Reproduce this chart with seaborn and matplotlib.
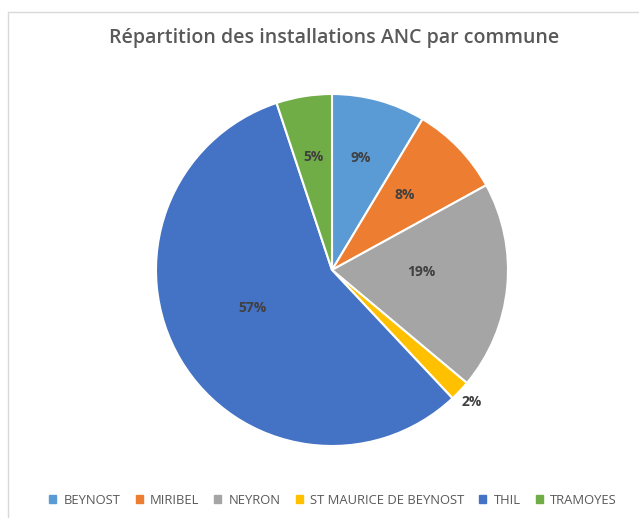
import numpy as np
import matplotlib
matplotlib.use("Agg")
import matplotlib.pyplot as plt
import seaborn as sns
from matplotlib.patches import Rectangle
from matplotlib.lines import Line2D

communes = ["BEYNOST", "MIRIBEL", "NEYRON", "ST MAURICE DE BEYNOST", "THIL", "TRAMOYES"]
parts = [8.6, 8.4, 19.1, 1.9, 56.9, 5.1]
pct_labels = ["9%", "8%", "19%", "2%", "57%", "5%"]
colors = ["#5B9BD5", "#ED7D31", "#A5A5A5", "#FFC000", "#4472C4", "#70AD47"]
title = "Répartition des installations ANC par commune"

sns.set_theme(style="white")
plt.rcParams['font.family'] = ['Open Sans', 'DejaVu Sans']

W, H = 639, 518
fig = plt.figure(figsize=(W / 100, H / 100), dpi=100)
fig.patch.set_facecolor("white")

# frame
fig.add_artist(Line2D([8 / W, 1.0], [1 - 12 / H, 1 - 12 / H], color="#D9D9D9", lw=1.0))
fig.add_artist(Line2D([8 / W, 8 / W], [0, 1 - 12 / H], color="#D9D9D9", lw=1.0))

cx, cy, R = 332, 270, 176
ax = fig.add_axes([(cx - R) / W, (H - cy - R) / H, 2 * R / W, 2 * R / H])
palette = sns.color_palette(colors)
wedges, _ = ax.pie(parts, colors=palette, startangle=90, counterclock=False,
                   wedgeprops=dict(edgecolor="white", linewidth=1.5))
ax.set_xlim(-1, 1)
ax.set_ylim(-1, 1)
ax.set_aspect("equal")
ax.axis("off")

dist = [0.66, 0.59, 0.51, 1.09, 0.50, 0.65]
dang = [1.0, 2.0, 4.5, 0.0, -5.0, 0.0]
for w, lab, d, da in zip(wedges, pct_labels, dist, dang):
    ang = np.deg2rad((w.theta1 + w.theta2) / 2 + da)
    ax.text(d * np.cos(ang), d * np.sin(ang), lab, ha="center", va="center",
            fontsize=10, fontweight="bold", color="#404040")

fig.text(334 / W, 1 - 38 / H, title, ha="center", va="center", fontsize=14,
         fontweight="semibold", color="#595959")

handles = [Rectangle((0, 0), 1, 1, color=c) for c in colors]
fig.legend(handles, communes, loc="center", bbox_to_anchor=(333 / W, 1 - 500 / H),
           ncol=6, frameon=False, fontsize=9.4, handlelength=0.55, handleheight=0.55,
           handletextpad=0.55, columnspacing=1.15, labelcolor="#595959")

fig.savefig("out.png", dpi=100, facecolor="white")
